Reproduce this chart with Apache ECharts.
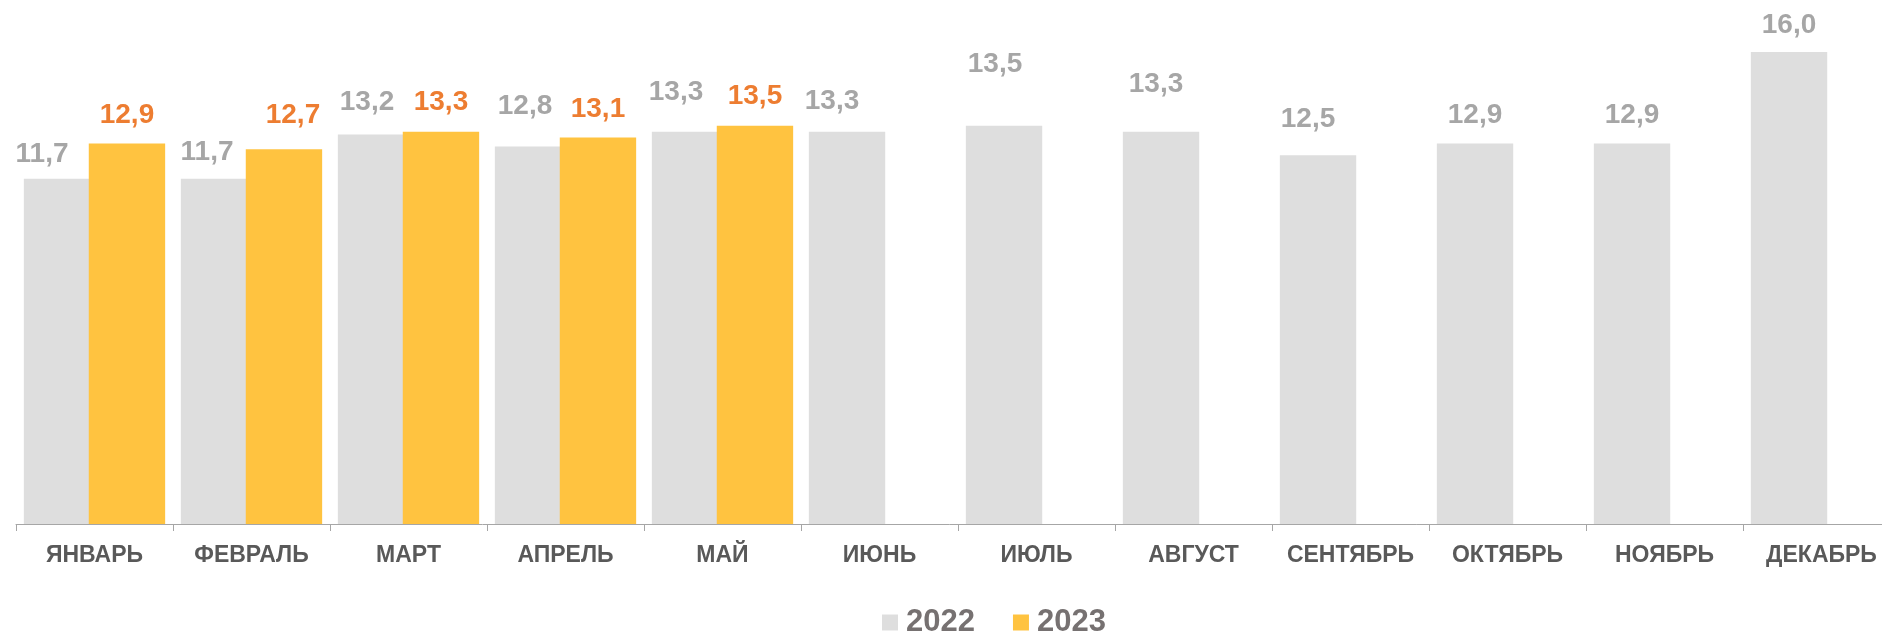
<!DOCTYPE html>
<html>
<head>
<meta charset="utf-8">
<script src="https://cdn.jsdelivr.net/npm/echarts@6/dist/echarts.min.js"></script>
<style>
  html, body { margin: 0; padding: 0; background: #fff; }
  #chart { width: 1882px; height: 634px; }
</style>
</head>
<body>
<div id="chart"></div>
<script>
var months = ["ЯНВАРЬ", "ФЕВРАЛЬ", "МАРТ", "АПРЕЛЬ", "МАЙ", "ИЮНЬ", "ИЮЛЬ", "АВГУСТ", "СЕНТЯБРЬ", "ОКТЯБРЬ", "НОЯБРЬ", "ДЕКАБРЬ"];
var values2022 = [11.7, 11.7, 13.2, 12.8, 13.3, 13.3, 13.5, 13.3, 12.5, 12.9, 12.9, 16.0];
var values2023 = [12.9, 12.7, 13.3, 13.1, 13.5, null, null, null, null, null, null, null];

// label nudges [dx, dy], as placed by hand in the original
var nudge2022 = [[-20, 3], [-12, 1], [-9, -4], [-8, -12], [-14, -11], [-15, -2], [-9, -33], [-5, -19], [-10, -8], [0, 0], [0, 0], [0, 1]];
var nudge2023 = [[0, 0], [9, -6], [0, -1], [0, 0], [0, -1]];

var FONT = "'Liberation Sans', Arial, sans-serif";

function fmt(p) {
  return p.value == null ? "" : p.value.toFixed(1).replace(".", ",");
}

function items(values, nudges) {
  return values.map(function(v, i) {
    return {
      value: v,
      label: { offset: nudges[i] || [0, 0] }
    };
  });
}

var chart = echarts.init(document.getElementById("chart"));

chart.setOption({
  animation: false,
  // the last category runs past the right edge, as in the original
  grid: { left: 16, width: 1884, top: -7, height: 531, outerBoundsMode: "none" },
  xAxis: {
    type: "category",
    data: months,
    axisLine: { lineStyle: { color: "#a6a6a6", width: 1 } },
    axisTick: { show: true, length: 7, lineStyle: { color: "#a6a6a6", width: 1 } },
    axisLabel: {
      interval: 0,
      margin: 20,
      color: "#595959",
      fontFamily: FONT,
      fontWeight: "bold",
      fontSize: 23,
      lineHeight: 23
    }
  },
  yAxis: {
    type: "value",
    min: 0,
    max: 18,
    show: false,
    splitLine: { show: false }
  },
  legend: {
    left: 882,
    top: 607,
    padding: 0,
    itemWidth: 16,
    itemHeight: 16,
    itemGap: 38,
    icon: "rect",
    textStyle: {
      color: "#767171",
      fontFamily: FONT,
      fontWeight: "bold",
      fontSize: 31,
      lineHeight: 31,
      padding: [0, 0, 0, 3]
    },
    data: ["2022", "2023"]
  },
  series: [
    {
      name: "2022",
      type: "bar",
      data: items(values2022, nudge2022),
      barCategoryGap: "10%",
      barGap: "-15%",
      itemStyle: { color: "#dedede" },
      label: {
        show: true,
        position: "top",
        distance: 14,
        formatter: fmt,
        color: "#a6a6a6",
        fontFamily: FONT,
        fontWeight: "bold",
        fontSize: 28,
        lineHeight: 28
      }
    },
    {
      name: "2023",
      type: "bar",
      data: items(values2023, nudge2023),
      barCategoryGap: "10%",
      barGap: "-15%",
      itemStyle: { color: "#ffc340" },
      label: {
        show: true,
        position: "top",
        distance: 14,
        formatter: fmt,
        color: "#ed7d31",
        fontFamily: FONT,
        fontWeight: "bold",
        fontSize: 28,
        lineHeight: 28
      }
    }
  ]
});
</script>
</body>
</html>
